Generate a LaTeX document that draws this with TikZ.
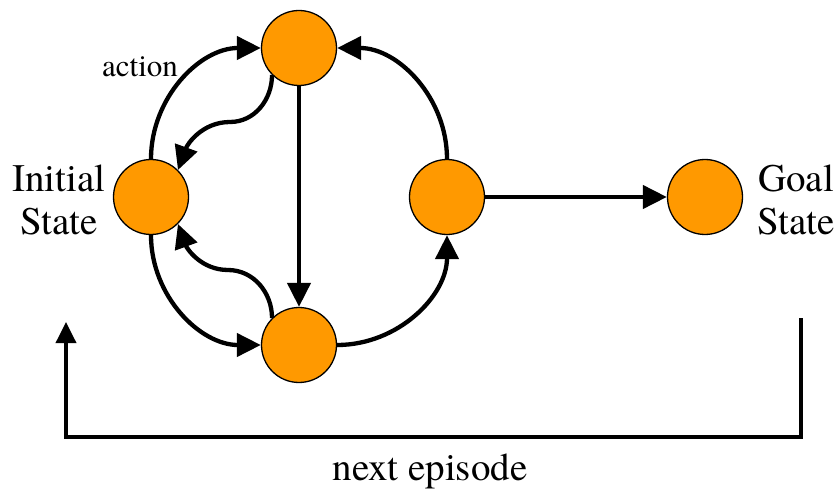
\documentclass[tikz,border=0pt]{standalone}
\usepackage{fontspec}
\newfontfamily\timesfont{texgyretermes-regular.otf}
\usetikzlibrary{arrows.meta}
\definecolor{stateorange}{RGB}{255,153,0}
\tikzset{
  statenode/.style={circle, draw=black, line width=1.3pt, fill=stateorange, minimum size=75pt, inner sep=0pt},
  arr/.style={-{Triangle[length=24pt,width=23pt]}, line width=4.3pt},
  plainline/.style={line width=4.3pt},
  backarr/.style={-{Triangle[length=21pt,width=20pt]}, line width=3.6pt},
  biglabel/.style={font=\timesfont\fontsize{39pt}{43pt}\selectfont, align=center, inner sep=0pt},
  smalllabel/.style={font=\timesfont\fontsize{31pt}{36pt}\selectfont, inner sep=0pt, anchor=base}
}
\begin{document}
\begin{tikzpicture}[x=1pt,y=1pt]
\useasboundingbox (0,0) rectangle (838,488);
\node[statenode] (I) at (151,291) {};
\node[statenode] (T) at (299,440) {};
\node[statenode] (B) at (299,143) {};
\node[statenode] (R) at (447,291) {};
\node[statenode] (G) at (705,291) {};

\node[biglabel] (initlabel) at (59,288) {Initial\\State};
\node[biglabel] (goallabel) at (796,288) {Goal\\State};
\node[smalllabel] (actlabel) at (140,411) {action};
\node[font=\timesfont\fontsize{39pt}{43pt}\selectfont, inner sep=0pt, anchor=base] (nextlabel) at (430,8) {next episode};

\coordinate (m1) at (230,366);
\coordinate (m2) at (228,218);
\coordinate (fbstart) at (801,170);
\coordinate (fbend) at (66,166);

\draw[arr] (I.north) to[out=90,in=180] (T.west);
\draw[arr] (I.south) to[out=270,in=180] (B.west);
\draw[arr] (B.east) to[out=0,in=270] (R.south);
\draw[arr] (R.north) to[out=90,in=0] (T.east);
\draw[arr] (T.south) -- (B.north);
\draw[arr] (R.east) -- (G.west);
\draw[plainline] (T.225) to[out=270,in=0] (m1);
\draw[arr] (m1) to[out=180,in=70] (I.45);
\draw[plainline] (B.135) to[out=90,in=0] (m2);
\draw[arr] (m2) to[out=180,in=290] (I.315);

\draw[backarr] (fbstart) |- (430,51) -| (fbend);
\end{tikzpicture}
\end{document}
